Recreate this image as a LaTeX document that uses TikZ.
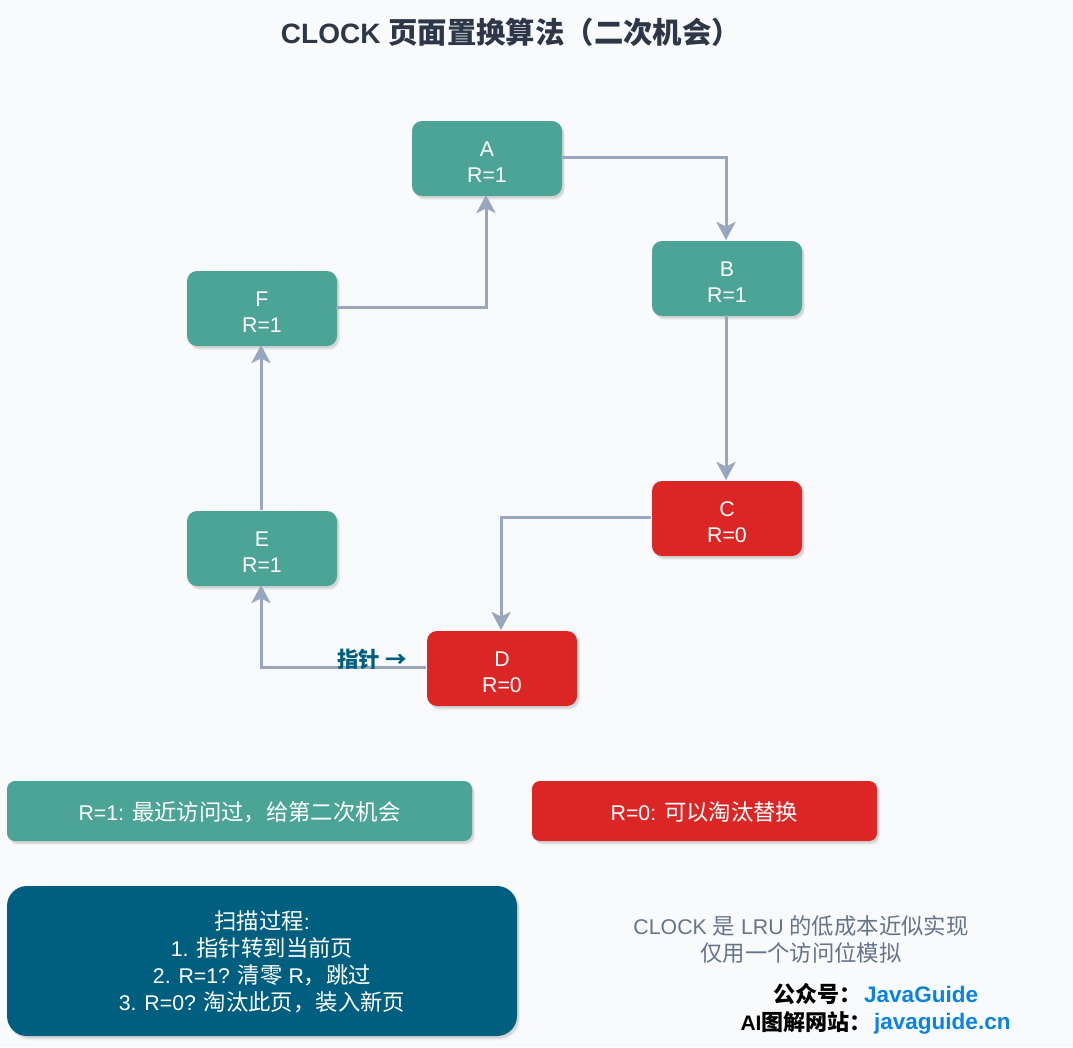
\documentclass[tikz,border=0pt]{standalone}
\usepackage{fontspec}
\setmainfont{Liberation Sans}
\newfontfamily\cjk[Scale=1.05]{Noto Sans CJK SC}
\usetikzlibrary{arrows.meta,positioning,shadows}
\definecolor{bgpage}{HTML}{F9FAFC}
\definecolor{tealpage}{HTML}{4CA497}
\definecolor{redpage}{HTML}{DC2626}
\definecolor{bluescan}{HTML}{005F7F}
\definecolor{flowline}{HTML}{98A7BD}
\definecolor{titletext}{HTML}{2D3748}
\definecolor{notetext}{HTML}{64748B}
\definecolor{linktext}{HTML}{0984E3}
\newcommand{\bodysize}{\fontsize{21.3pt}{26pt}\selectfont}
\newcommand{\scansize}{\fontsize{21.3pt}{27pt}\selectfont}
\newcommand{\footsize}{\fontsize{22.5pt}{27pt}\selectfont}
\newcommand{\ownersize}{\fontsize{21pt}{27pt}\selectfont}
\begin{document}
\begin{tikzpicture}[x=1pt,y=-1pt,node distance=90pt,
    flow/.style={draw=flowline,line width=3pt,
      -{Stealth[length=18pt,width=19pt,inset=4.5pt]}},
    softshadow/.style={drop shadow={shadow xshift=3pt,shadow yshift=-4pt,
      opacity=.07},drop shadow={shadow xshift=2pt,shadow yshift=-3pt,opacity=.12},
      drop shadow={shadow xshift=2pt,shadow yshift=-2pt,opacity=.14}},
    box/.style={rounded corners=#1,softshadow,text=white,align=center,inner sep=0pt,
      outer sep=0pt,font=\bodysize,text depth=0pt},
    page/.style={box=10pt,minimum width=150pt,minimum height=75pt,text height=47pt},
    keep/.style={page,fill=tealpage},
    evict/.style={page,fill=redpage}]
  \fill[bgpage] (0,0) rectangle (1073,1047);
  \useasboundingbox (0,0) rectangle (1073,1047);

  \node[font=\fontsize{28pt}{32pt}\selectfont\bfseries,text=titletext] (title) at (511,32.5)
  {CLOCK {\cjk 页面置换算法（二次机会）}};

  \node[keep] (A) at (487,158.5) {A\\R=1};
  \node[keep] (B) [below right=45pt and 90pt of A] {B\\R=1};
  \node[evict] (C) [below=165pt of B] {C\\R=0};
  \node[evict] (D) [below left=75pt and 75pt of C] {D\\R=0};
  \node[keep] (E) [above left=45pt and 90pt of D] {E\\R=1};
  \node[keep] (F) [above=165pt of E] {F\\R=1};

  \begin{scope}[transform canvas={shift={(-1pt,1pt)}}]
    \draw[flow] (A.east) -| (B.north);
    \draw[flow] (B.south) -- (C.north);
    \draw[flow] (C.west) -| (D.north);
    \draw[flow] (D.west) -| (E.south);
    \draw[flow] (E.north) -- (F.south);
    \draw[flow] (F.east) -| (A.south);
  \end{scope}

  \node[font=\fontsize{20.5pt}{26pt}\selectfont\bfseries,text=bluescan,inner sep=0pt] (pointer) at (372,659)
  {\cjk 指针 →};

  \node[box=8pt,fill=tealpage,minimum width=465pt,minimum height=60pt] (keepkey) at (239.5,811)
  {R=1: {\cjk 最近访问过，给第二次机会}};
  \node[box=8pt,fill=redpage,minimum width=345pt,minimum height=60pt] (evictkey) [right=60pt of keepkey]
  {R=0: {\cjk 可以淘汰替换}};

  \node[box=20pt,font=\scansize,fill=bluescan,minimum width=510pt,minimum height=150pt] (scan) at (262,961)
  {{\cjk 扫描过程}:\\1. {\cjk 指针转到当前页}\\2. R=1? {\cjk 清零} R{\cjk ，跳过}\\
   3. R=0? {\cjk 淘汰此页，装入新页}};

  \node[font=\scansize,text=notetext,align=center,inner sep=0pt] (note) at (801,939.5)
  {CLOCK {\cjk 是} LRU {\cjk 的低成本近似实现}\\{\cjk 仅用一个访问位模拟}};

  \node[font=\ownersize\bfseries,text=black,anchor=east,inner sep=0pt] (account) at (862,994)
  {\cjk 公众号：};
  \node[font=\footsize\bfseries,text=linktext,anchor=west,inner sep=0pt] (accountname) at (864,994)
  {JavaGuide};
  \node[font=\ownersize\bfseries,text=black,anchor=east,inner sep=0pt] (site) at (872,1022)
  {AI{\cjk 图解网站：}};
  \node[font=\footsize\bfseries,text=linktext,anchor=west,inner sep=0pt] (sitename) at (874,1023.5)
  {javaguide.cn};
\end{tikzpicture}
\end{document}
